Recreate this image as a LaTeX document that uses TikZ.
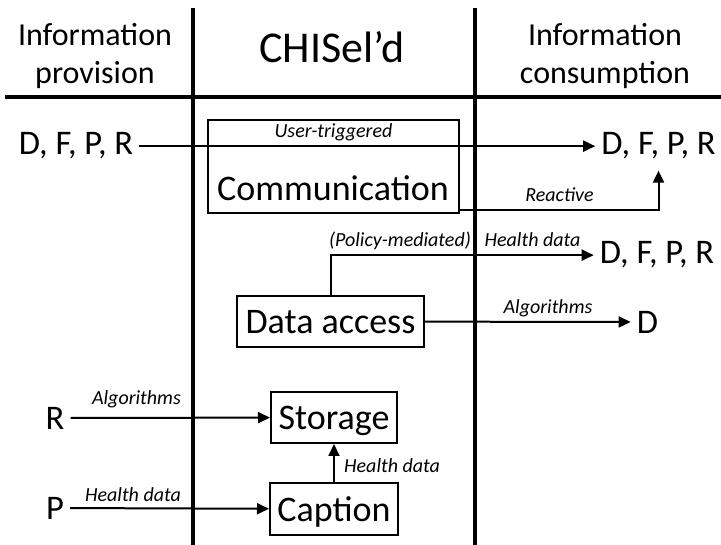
\documentclass[tikz,border=0pt]{standalone}
\usepackage{fontspec}
\setmainfont{Carlito}
\usetikzlibrary{arrows.meta}

\begin{document}
\begin{tikzpicture}[x=1pt,y=-1pt,
    head/.style={align=center,font=\fontsize{32}{38}\selectfont},
    big/.style={inner xsep=6pt,inner ysep=2pt,font=\fontsize{34.5}{40}\selectfont},
    box/.style={draw,line width=2pt,inner sep=0pt,text depth=0pt,font=\fontsize{36}{42}\selectfont},
    lbl/.style={inner sep=0pt,font=\fontsize{20}{24}\selectfont\itshape},
    flow/.style={line width=2pt,-{Triangle[length=12pt,width=11pt]}}]
    \useasboundingbox (0,0) rectangle (721,545);

    % columns
    \draw[line width=4pt] (5,97) -- (721,97);
    \draw[line width=4pt] (193,8) -- (193,545);
    \draw[line width=4pt] (475,8) -- (475,545);
    \node[head] (prov) at (95,56) {Information\\provision};
    \node[anchor=base,font=\fontsize{44}{48}\selectfont] (chis) at (332,63) {CHISel’d};
    \node[head] (cons) at (605,56) {Information\\consumption};

    % communication
    \node[box,minimum width=251pt,minimum height=93pt] (comm) at (333.5,166.5) {};
    \node[anchor=base,font=\fontsize{36}{42}\selectfont] (commtxt) at (333,201) {Communication};
    \node[big,anchor=base] (srcA) at (76,155) {D, F, P, R};
    \node[big,anchor=base] (dstA) at (658.5,155) {D, F, P, R};
    \draw[flow] (srcA.east) -- (dstA.west);
    \node[lbl,anchor=base] (ut) at (333.5,138) {User-triggered};
    \draw[flow] ([yshift=4pt]comm.south east) -| ([yshift=-9pt]dstA.south);
    \node[lbl,anchor=base] (reac) at (559.5,202) {Reactive};

    % data access
    \node[box,minimum width=187pt,minimum height=51pt] (data) at (330.5,321.5) {Data access};
    \node[big,anchor=base] (dstB) at (657,264) {D, F, P, R};
    \node[big] (dstC) at (647.5,322) {D};
    \draw[flow] (data.north) |- (dstB.west);
    \draw[flow] (data) -- (dstC);
    \node[lbl,anchor=base] (pol) at (400,247) {(Policy-mediated)};
    \node[lbl,anchor=base] (hd1) at (532.5,247) {Health data};
    \node[lbl,anchor=base] (alg1) at (548,314) {Algorithms};

    % storage and caption
    \node[box,minimum width=126pt,minimum height=51pt] (store) at (334,417.5) {Storage};
    \node[box,minimum width=128pt,minimum height=52pt] (capt) at (334,509) {Caption};
    \node[big] (srcR) at (55,418) {R};
    \node[big] (srcP) at (55,508) {P};
    \draw[flow] (srcR) -- (store);
    \draw[flow] (srcP) -- (capt);
    \draw[flow] (capt) -- (store);
    \node[lbl,anchor=base east] (alg2) at (181,405) {Algorithms};
    \node[lbl,anchor=base east] (hd2) at (181,502) {Health data};
    \node[lbl,anchor=base west] (hd3) at (344,473) {Health data};
\end{tikzpicture}
\end{document}
